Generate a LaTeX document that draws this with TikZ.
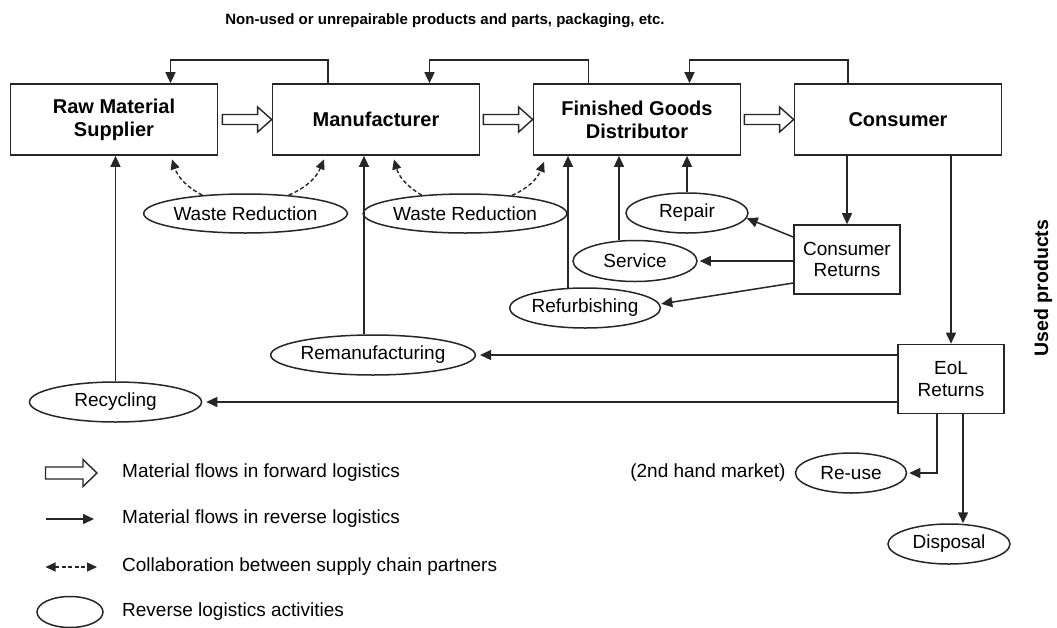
\documentclass[tikz,border=0pt]{standalone}
\usepackage{fontspec}
\setmainfont{Liberation Sans}
\usetikzlibrary{arrows.meta,calc,shapes.geometric}

% hollow block arrow from #1 to the tip #2 (shaft half-height #3, head half-height #4)
\newcommand\flowarrow[4]{%
  \draw[fwd] let \p1=#1, \p2=#2 in
    (\x1,\y1+#3) -- (\x2-14pt,\y1+#3) -- (\x2-14pt,\y1+#4) -- (\x2,\y1)
    -- (\x2-14pt,\y1-#4) -- (\x2-14pt,\y1-#3) -- (\x1,\y1-#3) -- cycle;}

\begin{document}
\begin{tikzpicture}[x=1pt,y=1pt,
  bigbox/.style={draw=black!85,line width=1.7pt,minimum width=207pt,minimum height=71pt,
    inner sep=0pt,align=center,font=\fontsize{20}{23}\selectfont\bfseries},
  smallbox/.style={draw=black!85,line width=1.6pt,minimum width=106pt,minimum height=69pt,
    inner sep=0pt,align=center,font=\fontsize{19}{21.5}\selectfont},
  act/.style={ellipse,draw=black!85,line width=1.5pt,inner sep=0pt,font=\fontsize{19}{22}\selectfont},
  rev/.style={draw=black!85,line width=1.5pt,-{Triangle[length=11pt,width=10pt]}},
  collab/.style={draw=black!85,line width=1.4pt,dash pattern=on 4pt off 2.5pt,
    -{Triangle[length=10pt,width=9pt]}},
  fwd/.style={draw=black!85,line width=1.4pt,fill=white},
  legtext/.style={anchor=west,inner sep=0pt,font=\fontsize{19}{22}\selectfont},
]
\useasboundingbox (0,0) rectangle (1057,-627);

% title
\node[font=\fontsize{15}{18}\selectfont\bfseries] (title) at (445,-21)
  {Non-used or unrepairable products and parts, packaging, etc.};
\node[rotate=90,font=\fontsize{19.5}{22}\selectfont\bfseries] (used) at (1043,-288) {Used products};

% supply chain stages
\node[bigbox] (raw) at (114,-119.5) {Raw Material\\Supplier};
\node[bigbox] (man) at (376,-119.5) {Manufacturer};
\node[bigbox] (fgd) at (637,-119.5) {Finished Goods\\Distributor};
\node[bigbox] (con) at (898,-119.5) {Consumer};
\node[smallbox] (cr) at (847,-259.5) {Consumer\\Returns};
\node[smallbox] (eol) at (951,-379) {EoL\\Returns};

% reverse logistics activities
\node[act,minimum width=173pt,minimum height=39pt] (wr1) at (245.5,-213.5) {Waste Reduction};
\node[act,minimum width=172pt,minimum height=39pt] (wr2) at (465,-213.5) {Waste Reduction};
\node[act,minimum width=122pt,minimum height=40pt] (repair) at (687,-213) {Repair};
\node[act,minimum width=124pt,minimum height=41pt] (service) at (635,-261) {Service};
\node[act,minimum width=140pt,minimum height=40pt] (refurb) at (585,-308) {Refurbishing};
\node[act,minimum width=174pt,minimum height=40pt] (reman) at (373,-355) {Remanufacturing};
\node[act,minimum width=172pt,minimum height=40pt] (recyc) at (115.5,-402) {Recycling};
\node[act,minimum width=111pt,minimum height=40pt] (reuse) at (851,-473) {Re-use};
\node[act,minimum width=122pt,minimum height=40pt] (disp) at (949,-544) {Disposal};
\node[anchor=east,inner sep=0pt,font=\fontsize{19}{22}\selectfont] (shm)
  at ([xshift=-9pt]reuse.west) {(2nd hand market)};

% forward flows
\flowarrow{($(raw.east)+(4pt,0)$)}{(man.west)}{5pt}{12.5pt}
\flowarrow{($(man.east)+(3pt,0)$)}{(fgd.west)}{5pt}{12.5pt}
\flowarrow{($(fgd.east)+(3pt,0)$)}{(con.west)}{5pt}{12.5pt}

% non-used products back upstream
\draw[rev] ([xshift=-48pt]man.north) -- ++(0,23) -| ([xshift=56.5pt]raw.north);
\draw[rev] ([xshift=-48.5pt]fgd.north) -- ++(0,23) -| ([xshift=53.5pt]man.north);
\draw[rev] ([xshift=-50pt]con.north) -- ++(0,23) -| ([xshift=52.5pt]fgd.north);

% collaboration
\coordinate (d1) at ([shift={(58pt,-3.5pt)}]raw.south);
\coordinate (d2) at ([shift={(-52pt,-3.5pt)}]man.south);
\coordinate (d3) at ([shift={(18pt,-3.5pt)}]man.south);
\coordinate (d4) at ([shift={(-93pt,-6pt)}]fgd.south);
\draw[collab] (wr1.157) to[bend left=22] (d1);
\draw[collab] (wr1.23) to[bend right=22] (d2);
\draw[collab] (wr2.157) to[bend left=22] (d3);
\draw[collab] (wr2.21) to[bend right=22] (d4);

% used products
\draw[rev] (con.south -| cr.north) -- (cr.north);
\draw[rev] (con.south -| eol.north) -- (eol.north);
\draw[rev] ([yshift=22.5pt]cr.west) -- (repair.-5);
\draw[rev,shorten >=2pt] (cr.west |- service.east) -- (service.east);
\draw[rev,shorten >=1.5pt] ([yshift=-23.5pt]cr.west) -- (refurb.3);
\draw[rev,shorten >=4pt] (eol.west |- reman.east) -- (reman.east);
\draw[rev,shorten >=4pt] (eol.west |- recyc.east) -- (recyc.east);
\draw[rev,shorten >=2pt] ([xshift=-14pt]eol.south) |- (reuse.east);
\coordinate (dtop) at ([xshift=12pt]eol.south);
\draw[rev] (dtop) -- (dtop |- disp.north);

% activities feeding back into the chain
\coordinate (rftop) at ([shift={(-17pt,-0.6pt)}]refurb.north);
\coordinate (svtop) at ([shift={(-16pt,-0.7pt)}]service.north);
\coordinate (rmtop) at ([xshift=-9pt]reman.north);
\draw[rev] (repair.north) -- (repair.north |- fgd.south);
\draw[rev] (svtop) -- (svtop |- fgd.south);
\draw[rev] (rftop) -- (rftop |- fgd.south);
\draw[rev] (rmtop) -- (rmtop |- man.south);
\draw[rev] (recyc.north) -- (recyc.north |- raw.south);

% legend
\coordinate (l1a) at (45.5,-473);  \coordinate (l1b) at (97,-473);
\coordinate (l2a) at (45.5,-519);  \coordinate (l2b) at (94,-519);
\coordinate (l3a) at (45.5,-567);  \coordinate (l3b) at (97,-567);
\flowarrow{(l1a)}{(l1b)}{6pt}{13.5pt}
\draw[rev] (l2a) -- (l2b);
\draw[collab,{Triangle[length=10pt,width=9pt]}-{Triangle[length=10pt,width=9pt]}] (l3a) -- (l3b);
\node[act,minimum width=66pt,minimum height=31pt] (l4) at (70,-612) {};
\node[legtext] (t1) at (122,-473) {Material flows in forward logistics};
\node[legtext] (t2) at (122,-519) {Material flows in reverse logistics};
\node[legtext] (t3) at (122,-567) {Collaboration between supply chain partners};
\node[legtext] (t4) at (122,-612) {Reverse logistics activities};
\end{tikzpicture}
\end{document}
